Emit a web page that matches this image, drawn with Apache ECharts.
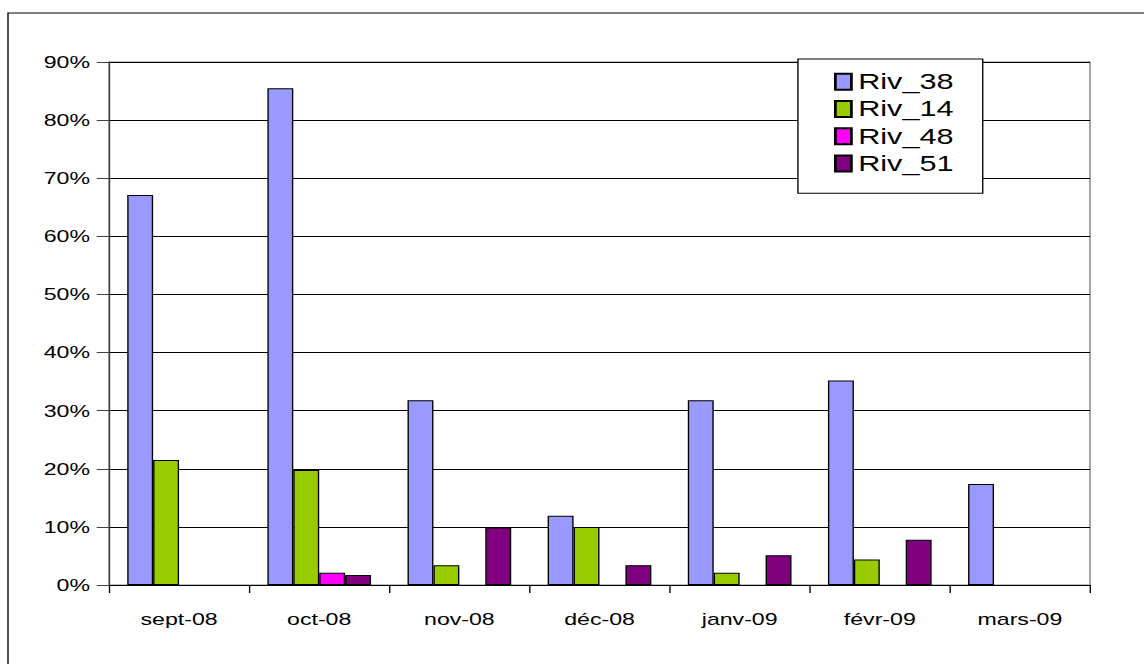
<!DOCTYPE html>
<html>
<head>
<meta charset="utf-8">
<script src="https://cdn.jsdelivr.net/npm/echarts@6/dist/echarts.min.js"></script>
<style>
  html, body { margin: 0; padding: 0; background: #fff; overflow: hidden; }
  #chart { width: 841px; height: 664px; transform: scaleX(1.3603); transform-origin: 0 0; }
</style>
</head>
<body>
<div id="chart"></div>
<script>
// Data (percent values)
var categories = ['sept-08', 'oct-08', 'nov-08', 'déc-08', 'janv-09', 'févr-09', 'mars-09'];
var seriesNames = ['Riv_38', 'Riv_14', 'Riv_48', 'Riv_51'];
var riv38 = [67.1, 85.5, 31.8, 11.9, 31.8, 35.2, 17.4];
var riv14 = [21.5, 19.8, 3.4, 10.0, 2.1, 4.4, '-'];
var riv48 = ['-', 2.1, '-', '-', '-', '-', '-'];
var riv51 = ['-', 1.7, 9.9, 3.4, 5.1, 7.8, '-'];
var yTicks = [0, 10, 20, 30, 40, 50, 60, 70, 80, 90];

var colors = ['#9999FF', '#99CC00', '#FF00FF', '#800080'];
var values = [riv38, riv14, riv48, riv51];
var FONT = "'Liberation Sans', Arial, sans-serif";

var chart = echarts.init(document.getElementById('chart'), null, { renderer: 'svg' });

var series = seriesNames.map(function (name, i) {
  return {
    name: name,
    type: 'bar',
    data: values[i],
    barGap: '0%',
    barCategoryGap: '26%',
    itemStyle: { color: colors[i], borderColor: '#000', borderWidth: 1 },
    emphasis: { disabled: true }
  };
});

chart.setOption({
  animation: false,
  backgroundColor: '#fff',
  textStyle: { fontFamily: FONT },
  grid: {
    left: 80.13, right: 39.7, top: 62, bottom: 79,
    show: true, borderColor: '#808080', borderWidth: 1, backgroundColor: 'transparent'
  },
  legend: {
    orient: 'vertical',
    left: 586.6, top: 59,
    data: seriesNames,
    icon: 'rect',
    itemWidth: 11.8, itemHeight: 16,
    itemGap: 0,
    itemTextGap: 8.8,
    padding: [9, 21.5, 16, 26.5],
    backgroundColor: '#fff',
    borderColor: '#000', borderWidth: 1,
    selectedMode: false,
    textStyle: { fontFamily: FONT, fontSize: 22.5, color: '#000', lineHeight: 27.3 }
  },
  xAxis: {
    type: 'category',
    data: categories,
    boundaryGap: true,
    axisLine: { show: true, lineStyle: { color: '#000', width: 1 } },
    axisTick: { show: true, alignWithLabel: false, length: 8, lineStyle: { color: '#000' } },
    axisLabel: { fontFamily: FONT, fontSize: 17, color: '#000', margin: 26 }
  },
  yAxis: {
    type: 'value',
    min: 0, max: 90, interval: 10,
    axisLine: { show: true, lineStyle: { color: '#404040', width: 1 } },
    axisTick: { show: true, length: 9, lineStyle: { color: '#404040' } },
    axisLabel: {
      fontFamily: FONT, fontSize: 17, color: '#000', margin: 14,
      formatter: function (v) { return yTicks.indexOf(v) >= 0 ? v + '%' : ''; }
    },
    splitLine: { show: true, lineStyle: { color: '#000', width: 1 } }
  },
  graphic: [{
    type: 'rect',
    shape: { x: 5.88, y: 13, width: 900, height: 700 },
    style: { fill: 'none', stroke: '#000', lineWidth: 1 },
    silent: true,
    z: -1
  }],
  series: series
});
</script>
</body>
</html>
